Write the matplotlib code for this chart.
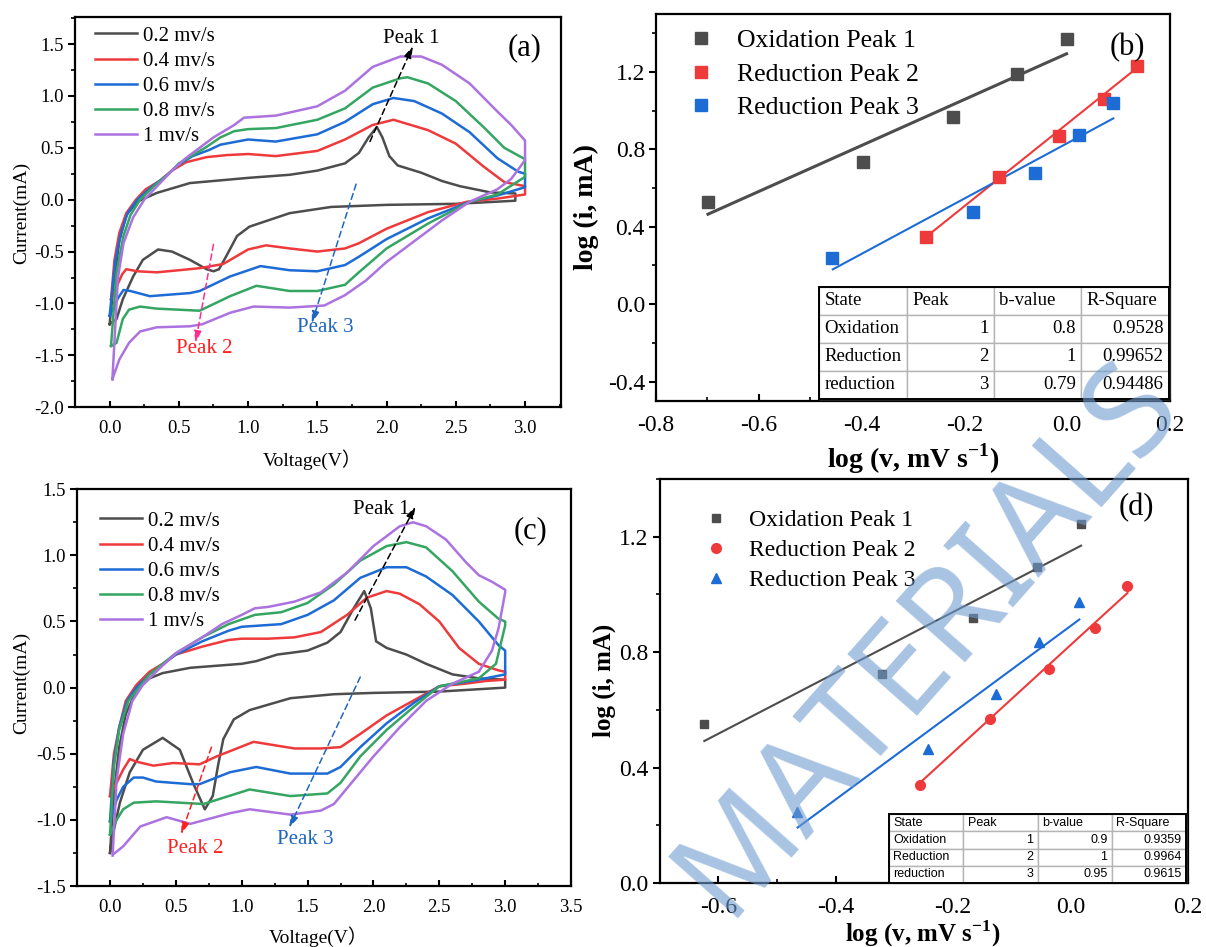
import numpy as np
import matplotlib
matplotlib.use("Agg")
import matplotlib.pyplot as plt
from matplotlib.ticker import AutoMinorLocator
from matplotlib.table import Table
from matplotlib.patches import Rectangle

# =========================
# SETTINGS
# =========================
plt.rcParams["font.family"] = ["Liberation Serif", "Noto Sans CJK SC"]
plt.rcParams["axes.unicode_minus"] = False
plt.rcParams["mathtext.fontset"] = "custom"
plt.rcParams["mathtext.rm"] = "Liberation Serif"
plt.rcParams["mathtext.bf"] = "Liberation Serif:bold"

out_file = "out.png"

c_gray = "#4d4d4d"
c_red = "#ef3a3b"
c_blue = "#1d6cd6"
c_green = "#35a562"
c_purple = "#ab72e0"

rate_labels = ["0.2 mv/s", "0.4 mv/s", "0.6 mv/s", "0.8 mv/s", "1 mv/s"]
rate_colors = [c_gray, c_red, c_blue, c_green, c_purple]

# =========================
# DATA  panel (a)  (V, mA) : anodic sweep then cathodic sweep
# =========================
a_02 = [(0.0, -1.2), (0.03, -0.8), (0.07, -0.4), (0.12, -0.15), (0.2, -0.02), (0.34, 0.065),
        (0.58, 0.16), (1.0, 0.21), (1.3, 0.24), (1.5, 0.28), (1.7, 0.35), (1.8, 0.45), (1.87, 0.6),
        (1.93, 0.70), (1.97, 0.6), (2.02, 0.42), (2.08, 0.33), (2.25, 0.26), (2.4, 0.18),
        (2.53, 0.13), (2.75, 0.07), (2.93, 0.06),
        (2.93, -0.01), (2.5, -0.04), (2.0, -0.05), (1.6, -0.07), (1.3, -0.13), (1.01, -0.26),
        (0.92, -0.35), (0.84, -0.55), (0.79, -0.67), (0.75, -0.69), (0.70, -0.67), (0.58, -0.58),
        (0.45, -0.5), (0.35, -0.48), (0.24, -0.58), (0.17, -0.74), (0.095, -0.96), (0.05, -1.15),
        (0.0, -1.2)]
a_04 = [(0.01, -0.96), (0.035, -0.58), (0.07, -0.32), (0.12, -0.13), (0.19, 0.0), (0.26, 0.1),
        (0.36, 0.18), (0.45, 0.28), (0.55, 0.36), (0.7, 0.41), (0.85, 0.43), (1.0, 0.44), (1.2, 0.42),
        (1.5, 0.47), (1.7, 0.58), (1.9, 0.72), (2.05, 0.77), (2.3, 0.67), (2.5, 0.54), (2.7, 0.32),
        (2.85, 0.17), (3.0, 0.13),
        (3.0, 0.05), (2.8, 0.01), (2.58, -0.02), (2.3, -0.12), (2.0, -0.28), (1.8, -0.42),
        (1.7, -0.47), (1.5, -0.5), (1.3, -0.47), (1.13, -0.44), (1.0, -0.48), (0.82, -0.62),
        (0.65, -0.66), (0.5, -0.68), (0.34, -0.70), (0.2, -0.69), (0.12, -0.67), (0.09, -0.72),
        (0.01, -0.96)]
a_06 = [(0.0, -1.12), (0.04, -0.6), (0.08, -0.33), (0.13, -0.13), (0.2, 0.0), (0.3, 0.12),
        (0.4, 0.22), (0.5, 0.34), (0.6, 0.42), (0.72, 0.48), (0.8, 0.53), (1.0, 0.58), (1.2, 0.56),
        (1.5, 0.63), (1.7, 0.75), (1.9, 0.92), (2.05, 0.98), (2.2, 0.95), (2.4, 0.83), (2.6, 0.65),
        (2.8, 0.4), (2.95, 0.27), (3.0, 0.25),
        (3.0, 0.12), (2.8, 0.04), (2.6, -0.02), (2.3, -0.18), (2.0, -0.38), (1.8, -0.55),
        (1.7, -0.63), (1.5, -0.69), (1.3, -0.68), (1.09, -0.64), (0.87, -0.74), (0.65, -0.88),
        (0.58, -0.9), (0.29, -0.93), (0.15, -0.88), (0.1, -0.87), (0.06, -0.95), (0.0, -1.12)]
a_08 = [(0.01, -1.41), (0.05, -0.7), (0.1, -0.35), (0.15, -0.15), (0.22, 0.0), (0.32, 0.13),
        (0.42, 0.24), (0.5, 0.35), (0.69, 0.5), (0.8, 0.6), (0.9, 0.66), (1.0, 0.68), (1.2, 0.69),
        (1.5, 0.77), (1.7, 0.88), (1.9, 1.08), (2.1, 1.17), (2.15, 1.18), (2.3, 1.12), (2.5, 0.95),
        (2.7, 0.7), (2.85, 0.5), (3.0, 0.39),
        (3.0, 0.22), (2.8, 0.05), (2.6, -0.02), (2.3, -0.23), (2.0, -0.47), (1.8, -0.7),
        (1.7, -0.82), (1.5, -0.88), (1.3, -0.88), (1.06, -0.83), (0.87, -0.93), (0.65, -1.07),
        (0.34, -1.05), (0.22, -1.03), (0.14, -1.06), (0.095, -1.15), (0.05, -1.38), (0.01, -1.41)]
a_10 = [(0.02, -1.73), (0.06, -0.75), (0.1, -0.42), (0.17, -0.17), (0.25, 0.0), (0.35, 0.14),
        (0.45, 0.28), (0.55, 0.4), (0.63, 0.48), (0.75, 0.6), (0.9, 0.72), (0.97, 0.79), (1.2, 0.81),
        (1.5, 0.9), (1.7, 1.05), (1.9, 1.28), (2.1, 1.38), (2.25, 1.38), (2.4, 1.3), (2.6, 1.12),
        (2.8, 0.85), (2.9, 0.72), (3.0, 0.57),
        (3.0, 0.38), (2.9, 0.2), (2.8, 0.1), (2.6, -0.02), (2.4, -0.2), (2.2, -0.4), (2.0, -0.6),
        (1.85, -0.78), (1.7, -0.92), (1.55, -1.02), (1.3, -1.04), (1.04, -1.03), (0.87, -1.09),
        (0.67, -1.2), (0.58, -1.22), (0.34, -1.23), (0.22, -1.27), (0.14, -1.38), (0.07, -1.54),
        (0.02, -1.73)]

# =========================
# DATA  panel (c)
# =========================
c_02 = [(0.0, -1.25), (0.03, -0.8), (0.07, -0.45), (0.12, -0.2), (0.2, -0.02), (0.3, 0.07),
        (0.4, 0.11), (0.61, 0.15), (1.0, 0.18), (1.11, 0.2), (1.27, 0.25), (1.35, 0.26), (1.5, 0.28),
        (1.65, 0.34), (1.75, 0.42), (1.85, 0.6), (1.93, 0.73), (1.98, 0.6), (2.02, 0.35), (2.1, 0.3),
        (2.25, 0.25), (2.4, 0.18), (2.6, 0.1), (2.8, 0.07), (3.0, 0.06),
        (3.0, 0.0), (2.5, -0.03), (2.0, -0.04), (1.7, -0.05), (1.37, -0.08), (1.06, -0.17),
        (0.94, -0.24), (0.86, -0.39), (0.82, -0.59), (0.78, -0.82), (0.72, -0.92), (0.63, -0.72),
        (0.53, -0.47), (0.40, -0.38), (0.25, -0.47), (0.15, -0.64), (0.075, -0.87), (0.02, -1.12),
        (0.0, -1.25)]
c_04 = [(0.0, -0.82), (0.03, -0.5), (0.07, -0.3), (0.12, -0.1), (0.2, 0.02), (0.3, 0.12),
        (0.4, 0.18), (0.5, 0.25), (0.7, 0.31), (0.9, 0.36), (1.0, 0.37), (1.2, 0.37), (1.4, 0.38),
        (1.6, 0.42), (1.8, 0.55), (1.95, 0.68), (2.1, 0.73), (2.2, 0.71), (2.35, 0.63), (2.5, 0.5),
        (2.65, 0.3), (2.8, 0.18), (2.95, 0.13), (3.0, 0.12),
        (3.0, 0.06), (2.85, 0.05), (2.7, 0.03), (2.5, 0.01), (2.3, -0.1), (2.1, -0.21),
        (1.9, -0.35), (1.75, -0.45), (1.6, -0.46), (1.4, -0.46), (1.09, -0.41), (0.81, -0.52),
        (0.68, -0.58), (0.48, -0.57), (0.33, -0.59), (0.2, -0.56), (0.15, -0.54), (0.1, -0.62),
        (0.0, -0.82)]
c_06 = [(0.0, -1.01), (0.03, -0.55), (0.07, -0.3), (0.13, -0.1), (0.2, 0.0), (0.3, 0.1),
        (0.5, 0.25), (0.7, 0.35), (0.9, 0.43), (1.0, 0.46), (1.3, 0.48), (1.5, 0.55), (1.7, 0.66),
        (1.9, 0.83), (2.1, 0.91), (2.25, 0.91), (2.4, 0.84), (2.6, 0.7), (2.8, 0.5), (2.95, 0.32),
        (3.0, 0.28),
        (3.0, 0.1), (2.8, 0.06), (2.5, 0.01), (2.3, -0.12), (2.1, -0.27), (1.9, -0.45),
        (1.75, -0.6), (1.65, -0.65), (1.37, -0.65), (1.11, -0.6), (0.91, -0.64), (0.68, -0.73),
        (0.61, -0.73), (0.35, -0.71), (0.25, -0.68), (0.18, -0.68), (0.1, -0.75), (0.05, -0.85),
        (0.0, -1.01)]
c_08 = [(0.0, -1.11), (0.03, -0.6), (0.07, -0.32), (0.14, -0.1), (0.22, 0.0), (0.3, 0.1),
        (0.5, 0.26), (0.7, 0.38), (0.9, 0.48), (1.1, 0.55), (1.3, 0.57), (1.5, 0.64), (1.7, 0.78),
        (1.9, 0.96), (2.1, 1.07), (2.25, 1.1), (2.4, 1.06), (2.6, 0.88), (2.8, 0.65), (2.95, 0.52),
        (3.0, 0.5),
        (3.0, 0.47), (2.93, 0.18), (2.8, 0.07), (2.5, 0.01), (2.3, -0.15), (2.1, -0.32),
        (1.9, -0.52), (1.75, -0.72), (1.65, -0.8), (1.37, -0.82), (1.06, -0.77), (0.71, -0.88),
        (0.35, -0.86), (0.18, -0.87), (0.1, -0.92), (0.05, -1.0), (0.0, -1.11)]
c_10 = [(0.02, -1.27), (0.05, -0.7), (0.1, -0.35), (0.17, -0.1), (0.25, 0.02), (0.35, 0.12),
        (0.5, 0.26), (0.7, 0.38), (0.85, 0.48), (1.0, 0.55), (1.1, 0.6), (1.2, 0.61), (1.4, 0.65),
        (1.6, 0.72), (1.8, 0.87), (2.0, 1.07), (2.2, 1.22), (2.3, 1.25), (2.4, 1.22), (2.55, 1.12),
        (2.7, 0.95), (2.8, 0.85), (2.9, 0.8), (3.0, 0.74),
        (3.0, 0.72), (2.95, 0.45), (2.9, 0.28), (2.8, 0.12), (2.6, 0.03), (2.4, -0.1),
        (2.2, -0.3), (2.0, -0.52), (1.85, -0.7), (1.7, -0.88), (1.6, -0.93), (1.37, -0.96),
        (1.06, -0.92), (0.91, -0.95), (0.61, -1.03), (0.43, -0.98), (0.23, -1.05), (0.1, -1.2),
        (0.025, -1.26)]

# peak arrows: (start, end, colour) and label positions
arrows_a = [((1.88, 0.56), (2.19, 1.48), "k"),
            ((0.75, -0.43), (0.62, -1.38), "#ff2d8f"),
            ((1.78, 0.15), (1.46, -1.19), "#1f66c1")]
peak_text_a = [(2.18, 1.55, "Peak 1", "k"), (0.68, -1.43, "Peak 2", "#ff1f1f"),
               (1.56, -1.23, "Peak 3", "#1f66c1")]
arrows_c = [((1.86, 0.51), (2.32, 1.37), "k"),
            ((0.77, -0.45), (0.54, -1.11), "#ff1f1f"),
            ((1.90, 0.08), (1.36, -1.06), "#1f66c1")]
peak_text_c = [(2.06, 1.35, "Peak 1", "k"), (0.65, -1.22, "Peak 2", "#ff1f1f"),
               (1.48, -1.15, "Peak 3", "#1f66c1")]

# =========================
# DATA  panel (b)  log v vs log i
# =========================
b_ox_x = [-0.699, -0.398, -0.223, -0.098, -0.001]
b_ox_y = [0.53, 0.737, 0.967, 1.187, 1.371]
b_r2_x = [-0.275, -0.132, -0.015, 0.071, 0.136]
b_r2_y = [0.345, 0.655, 0.867, 1.060, 1.233]
b_r3_x = [-0.458, -0.184, -0.062, 0.023, 0.090]
b_r3_y = [0.237, 0.475, 0.680, 0.874, 1.040]
b_ox_fit = ([-0.699, -0.001], [0.465, 1.294])
b_r2_fit = ([-0.264, 0.136], [0.37, 1.221])
b_r3_fit = ([-0.456, 0.090], [0.18, 0.96])
b_table = [["State", "Peak", "b-value", "R-Square"],
           ["Oxidation", "1", "0.8", "0.9528"],
           ["Reduction", "2", "1", "0.99652"],
           ["reduction", "3", "0.79", "0.94486"]]

# =========================
# DATA  panel (d)
# =========================
d_ox_x = [-0.625, -0.321, -0.166, -0.057, 0.018]
d_ox_y = [0.552, 0.725, 0.918, 1.095, 1.245]
d_r2_x = [-0.257, -0.137, -0.036, 0.041, 0.097]
d_r2_y = [0.341, 0.569, 0.742, 0.882, 1.028]
d_r3_x = [-0.466, -0.243, -0.127, -0.053, 0.015]
d_r3_y = [0.246, 0.465, 0.654, 0.835, 0.973]
d_ox_fit = ([-0.624, 0.018], [0.492, 1.169])
d_r2_fit = ([-0.255, 0.097], [0.35, 1.005])
d_r3_fit = ([-0.465, 0.015], [0.192, 0.913])
d_table = [["State", "Peak", "b-value", "R-Square"],
           ["Oxidation", "1", "0.9", "0.9359"],
           ["Reduction", "2", "1", "0.9964"],
           ["reduction", "3", "0.95", "0.9615"]]

# =========================
# HELPERS
# =========================
def style_axes(ax, labelsize, ylen=5, xlen=4):
    for s in ax.spines.values():
        s.set_linewidth(1.6)
    ax.xaxis.set_minor_locator(AutoMinorLocator(2))
    ax.yaxis.set_minor_locator(AutoMinorLocator(2))
    ax.tick_params(axis="x", which="major", direction="in", length=xlen, width=1.5,
                   labelsize=labelsize, pad=9, top=False)
    ax.tick_params(axis="x", which="minor", direction="in", length=xlen * 0.6, width=1.2, top=False)
    ax.tick_params(axis="y", which="major", direction="out", length=ylen, width=1.5,
                   labelsize=labelsize, pad=3, right=False)
    ax.tick_params(axis="y", which="minor", direction="out", length=ylen * 0.6, width=1.2, right=False)


def cv_panel(ax, curves, arrows, peak_texts, tag, tag_xy, ylim, xlim, xticks, yticks, leg_anchor):
    for curve, col, lab in zip(curves, rate_colors, rate_labels):
        v, i = np.array(curve).T
        ax.plot(v, i, color=col, lw=1.8, label=lab)
    for (x0, y0), (x1, y1), col in arrows:
        ax.annotate("", xy=(x1, y1), xytext=(x0, y0),
                    arrowprops=dict(arrowstyle="-|>,head_length=0.7,head_width=0.22",
                                    color=col, lw=1.1, ls=(0, (4, 2.5)),
                                    shrinkA=0, shrinkB=0))
    for x, y, s, col in peak_texts:
        ax.text(x, y, s, color=col, fontsize=15, ha="center", va="center")
    ax.text(tag_xy[0], tag_xy[1], tag, fontsize=22, ha="center", va="center")
    ax.set_xlim(*xlim)
    ax.set_ylim(*ylim)
    ax.set_xticks(xticks)
    ax.set_yticks(yticks)
    ax.set_xticklabels([f"{t:.1f}" for t in xticks])
    ax.set_yticklabels([f"{t:.1f}" for t in yticks])
    style_axes(ax, 13.5)
    ax.legend(loc="upper left", bbox_to_anchor=leg_anchor, frameon=False, fontsize=15,
              handlelength=2.0, handletextpad=0.3, labelspacing=0.27,
              borderaxespad=0, borderpad=0)
    ax.set_xlabel("Voltage(V）", fontsize=14)
    ax.set_ylabel("Current(mA)", fontsize=14)


def add_table(ax, rows, bbox, fontsize, family, pad):
    tab = Table(ax, bbox=bbox)
    nr, nc = len(rows), len(rows[0])
    for r, row in enumerate(rows):
        for c, txt in enumerate(row):
            loc = "left" if (r == 0 or c == 0) else "right"
            cell = tab.add_cell(r, c, width=1.0 / nc, height=1.0 / nr, text=txt, loc=loc,
                                facecolor="white", edgecolor="#b4b4b4")
            cell.set_linewidth(1.0)
            cell.PAD = pad
            cell.get_text().set_fontsize(fontsize)
            cell.get_text().set_fontfamily(family)
    tab.auto_set_font_size(False)
    tab.set_zorder(4)
    ax.add_table(tab)
    ax.add_patch(Rectangle((bbox[0], bbox[1]), bbox[2], bbox[3], transform=ax.transAxes,
                           fill=False, lw=1.4, ec="black", zorder=5, clip_on=False))


def log_panel(ax, pts, fits, markers, sizes, labels, table_rows, table_bbox, table_fs, table_family,
              tag_xy, xlim, ylim, xticks, yticks, leg_anchor, leg_fs, leg_space, fit_lw):
    cols = [c_gray, c_red, c_blue]
    handles = []
    for (x, y), (fx, fy), m, ms, lab, col, lw in zip(pts, fits, markers, sizes, labels, cols, fit_lw):
        ax.plot(fx, fy, "-", color=col, lw=lw, zorder=2)
        h, = ax.plot(x, y, ls="none", marker=m, ms=ms, color=col, mec=col, label=lab, zorder=3)
        handles.append(h)
    ax.set_xlim(*xlim)
    ax.set_ylim(*ylim)
    ax.set_xticks(xticks)
    ax.set_yticks(yticks)
    ax.set_xticklabels([f"{t:.1f}" for t in xticks])
    ax.set_yticklabels([f"{t:.1f}" for t in yticks])
    style_axes(ax, 17, ylen=5, xlen=5)
    ax.tick_params(axis="x", pad=10)
    ax.legend(handles=handles, loc="upper left", bbox_to_anchor=leg_anchor, frameon=False,
              fontsize=leg_fs, handlelength=1.0, handletextpad=0.9, labelspacing=leg_space,
              borderaxespad=0, borderpad=0, numpoints=1)
    ax.text(tag_xy[0], tag_xy[1], ax.get_label(), fontsize=22, ha="center", va="center")
    add_table(ax, table_rows, table_bbox, table_fs, table_family, 0.06)


# =========================
# FIGURE
# =========================
fig = plt.figure(figsize=(12.06, 9.47), dpi=100)

ax_a = fig.add_axes([0.0622, 0.570, 0.403, 0.412])
ax_b = fig.add_axes([0.544, 0.5766, 0.426, 0.4087], label="(b)")
ax_c = fig.add_axes([0.0639, 0.0644, 0.4096, 0.419])
ax_d = fig.add_axes([0.547, 0.0676, 0.438, 0.4266], label="(d)")

cv_panel(ax_a, [a_02, a_04, a_06, a_08, a_10], arrows_a, peak_text_a, "(a)", (3.0, 1.46),
         (-2.0, 1.76), (-0.25, 3.26), [0.0, 0.5, 1.0, 1.5, 2.0, 2.5, 3.0],
         [-2.0, -1.5, -1.0, -0.5, 0.0, 0.5, 1.0, 1.5], (0.041, 0.977))
ax_a.xaxis.set_label_coords(0.488, -0.108)
ax_a.yaxis.set_label_coords(-0.093, 0.497)

cv_panel(ax_c, [c_02, c_04, c_06, c_08, c_10], arrows_c, peak_text_c, "(c)", (3.19, 1.19),
         (-1.5, 1.5), (-0.25, 3.5), [0.0, 0.5, 1.0, 1.5, 2.0, 2.5, 3.0, 3.5],
         [-1.5, -1.0, -0.5, 0.0, 0.5, 1.0, 1.5], (0.047, 0.945))
ax_c.xaxis.set_label_coords(0.488, -0.102)
ax_c.yaxis.set_label_coords(-0.095, 0.511)

log_panel(ax_b, [(b_ox_x, b_ox_y), (b_r2_x, b_r2_y), (b_r3_x, b_r3_y)],
          [b_ox_fit, b_r2_fit, b_r3_fit], ["s", "s", "s"], [8, 8, 8],
          ["Oxidation Peak 1", "Reduction Peak 2", "Reduction Peak 3"],
          b_table, [0.318, 0.005, 0.68, 0.29], 13.5, "Liberation Serif",
          (0.117, 1.325), (-0.8, 0.2), (-0.5, 1.5), [-0.8, -0.6, -0.4, -0.2, 0.0, 0.2],
          [-0.4, 0.0, 0.4, 0.8, 1.2], (0.063, 0.96), 18.5, 0.4, [2.2, 1.5, 1.5])
ax_b.set_xlabel(r"log (v, mV s$^{\mathbf{-1}}$)", fontsize=20, fontweight="bold")
ax_b.set_ylabel("log (i, mA)", fontsize=20, fontweight="bold")
ax_b.xaxis.set_label_coords(0.5, -0.105)
ax_b.yaxis.set_label_coords(-0.111, 0.5)

log_panel(ax_d, [(d_ox_x, d_ox_y), (d_r2_x, d_r2_y), (d_r3_x, d_r3_y)],
          [d_ox_fit, d_r2_fit, d_r3_fit], ["s", "o", "^"], [6, 7, 7.5],
          ["Oxidation Peak 1", "Reduction Peak 2", "Reduction Peak 3"],
          d_table, [0.434, 0.0, 0.563, 0.17], 9, "Liberation Sans",
          (0.112, 1.302), (-0.7, 0.2), (0.0, 1.4), [-0.6, -0.4, -0.2, 0.0, 0.2],
          [0.0, 0.4, 0.8, 1.2], (0.085, 0.925), 17, 0.36, [1.5, 1.5, 1.5])
ax_d.set_xlabel(r"log (v, mV s$^{\mathbf{-1}}$)", fontsize=18, fontweight="bold")
ax_d.set_ylabel("log (i, mA)", fontsize=18, fontweight="bold")
ax_d.xaxis.set_label_coords(0.498, -0.088)
ax_d.yaxis.set_label_coords(-0.083, 0.502)

# watermark (condensed sans, anchored at the start of its baseline)
fig.text(0.602, 0.030, "MATERIALS", rotation=48.5, rotation_mode="anchor", fontsize=93,
         family="Noto Sans", stretch="condensed", fontweight="bold",
         color="#6f9bd0", alpha=0.6, ha="left", va="baseline", zorder=10)

fig.savefig(out_file, dpi=100)
plt.close(fig)
print(f"Saved: {out_file}")
